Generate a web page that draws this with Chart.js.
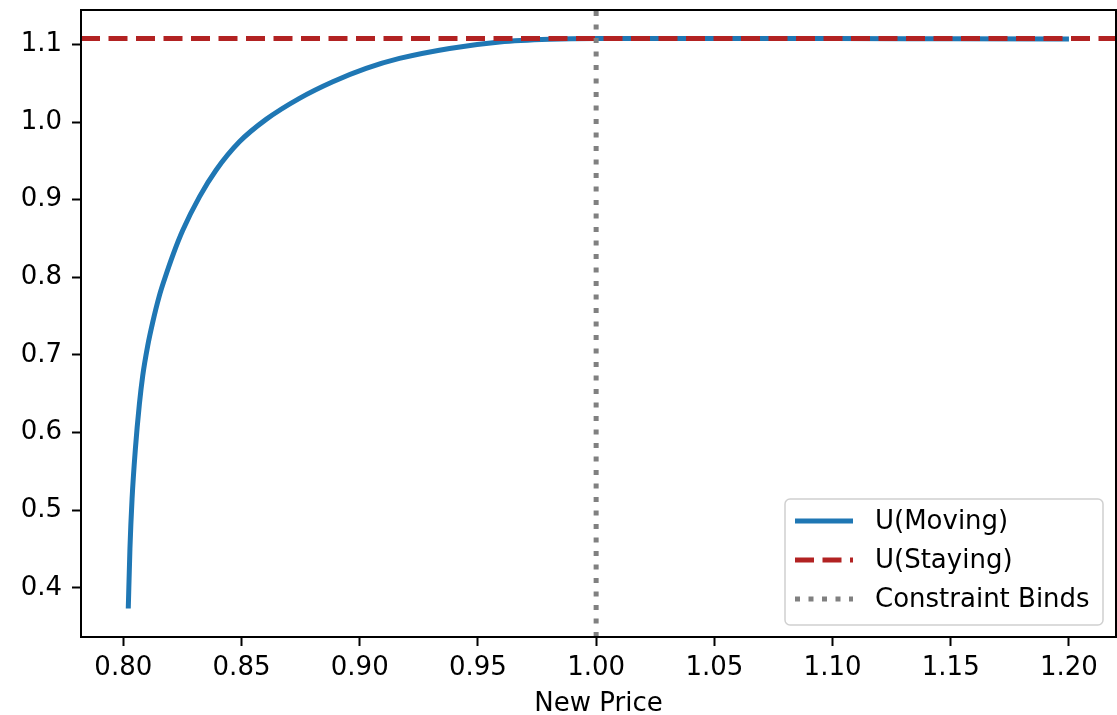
<!DOCTYPE html>
<html>
<head>
<meta charset="utf-8">
<title>U(Moving) vs U(Staying)</title>
<script src="https://cdn.jsdelivr.net/npm/chart.js@4/dist/chart.umd.min.js"></script>
<style>
  html, body { margin: 0; padding: 0; background: #fff; }
  #chart { display: block; }
</style>
</head>
<body>
<canvas id="chart" width="1117" height="715"></canvas>
<script>
// ------------------------------------------------------------
// data
// ------------------------------------------------------------
const priceX = [
  0.8021, 0.8028, 0.8037, 0.8051, 0.8068, 0.8082, 0.8103, 0.8124, 0.8152, 0.8174,
  0.8212, 0.8251, 0.8322, 0.8392, 0.8491, 0.8604, 0.8745, 0.8886, 0.9027, 0.9168,
  0.938, 0.9592, 0.9803, 1.0, 1.05, 1.1, 1.15, 1.2,
];
const uMoving = [
  0.3734, 0.4505, 0.5147, 0.5789, 0.6367, 0.6731, 0.7116, 0.7417, 0.7758, 0.7973,
  0.8307, 0.8604, 0.9037, 0.938, 0.9746, 1.0035, 1.0306, 1.052, 1.0692, 1.082,
  1.0949, 1.1033, 1.1068, 1.1077, 1.1077, 1.1076, 1.1074, 1.1072,
];
const uStaying = 1.1077;
const bindPrice = 1.0;

const xTicks = [0.8, 0.85, 0.9, 0.95, 1.0, 1.05, 1.1, 1.15, 1.2];
const yTicks = [0.4, 0.5, 0.6, 0.7, 0.8, 0.9, 1.0, 1.1];
const xRange = [0.7821, 1.2199];
const yRange = [0.3367, 1.1444];

const FONT = "'DejaVu Sans', sans-serif";
const FONT_SIZE = 26;

// axes frame (all four spines) drawn over the lines, like matplotlib
const framePlugin = {
  id: "frame",
  afterDatasetsDraw(chart) {
    const { ctx, chartArea: a } = chart;
    ctx.save();
    ctx.strokeStyle = "#000";
    ctx.lineWidth = 2;
    ctx.strokeRect(a.left, a.top, a.right - a.left, a.bottom - a.top);
    ctx.restore();
  },
};

// legend box in the lower right corner of the plot
const boxLegend = {
  id: "boxLegend",
  afterDraw(chart) {
    const { ctx } = chart;
    const x0 = 785, y0 = 499, w = 318, h = 126, r = 5;
    ctx.save();
    ctx.beginPath();
    ctx.roundRect(x0, y0, w, h, r);
    ctx.fillStyle = "rgba(255,255,255,0.8)";
    ctx.fill();
    ctx.strokeStyle = "#d0d0d0";
    ctx.lineWidth = 1.5;
    ctx.stroke();

    ctx.font = `${FONT_SIZE}px ${FONT}`;
    ctx.textBaseline = "middle";
    ctx.fillStyle = "#000";
    chart.data.datasets.forEach((ds, i) => {
      const y = 521 + i * 39;
      ctx.beginPath();
      ctx.strokeStyle = ds.borderColor;
      ctx.lineWidth = ds.borderWidth;
      ctx.setLineDash(ds.borderDash || []);
      ctx.lineCap = "butt";
      ctx.moveTo(795, y);
      ctx.lineTo(853, y);
      ctx.stroke();
      ctx.setLineDash([]);
      ctx.fillText(ds.label, 875, y + 1);
    });
    ctx.restore();
  },
};

new Chart(document.getElementById("chart"), {
  type: "line",
  data: {
    datasets: [
      {
        label: "U(Moving)",
        data: priceX.map((x, i) => ({ x, y: uMoving[i] })),
        borderColor: "#1f77b4",
        borderWidth: 5,
        pointRadius: 0,
        cubicInterpolationMode: "monotone",
        order: 3,
        clip: 0,
      },
      {
        label: "U(Staying)",
        data: xRange.map((x) => ({ x, y: uStaying })),
        borderColor: "#b22222",
        borderWidth: 5,
        borderDash: [19, 8.5],
        pointRadius: 0,
        order: 2,
        clip: 0,
      },
      {
        label: "Constraint Binds",
        data: yRange.map((y) => ({ x: bindPrice, y })),
        borderColor: "#808080",
        borderWidth: 5,
        borderDash: [5, 8.5],
        pointRadius: 0,
        order: 1,
        clip: 0,
      },
    ],
  },
  options: {
    responsive: false,
    animation: false,
    devicePixelRatio: 1,
    layout: { padding: { top: 10, right: 1, left: 0, bottom: 0 } },
    plugins: {
      legend: { display: false },
      tooltip: { enabled: false },
    },
    scales: {
      x: {
        type: "linear",
        min: xRange[0],
        max: xRange[1],
        afterBuildTicks: (scale) => { scale.ticks = xTicks.map((v) => ({ value: v })); },
        afterFit: (scale) => {
          scale.height = 78;
          scale.paddingLeft = 0;
          scale.paddingRight = 0;
        },
        grid: { drawOnChartArea: false, drawTicks: true, tickLength: 9, tickWidth: 2, tickColor: "#000" },
        border: { display: false },
        ticks: {
          color: "#000",
          font: { family: FONT, size: FONT_SIZE },
          padding: 7,
          maxRotation: 0,
          autoSkip: false,
          callback: (v) => v.toFixed(2),
        },
        title: {
          display: true,
          text: "New Price",
          color: "#000",
          font: { family: FONT, size: FONT_SIZE, lineHeight: 0.85 },
          padding: { top: 0, bottom: 0 },
        },
      },
      y: {
        type: "linear",
        min: yRange[0],
        max: yRange[1],
        afterBuildTicks: (scale) => { scale.ticks = yTicks.map((v) => ({ value: v })); },
        afterFit: (scale) => {
          scale.width = 81;
          scale.paddingTop = 0;
          scale.paddingBottom = 0;
        },
        grid: { drawOnChartArea: false, drawTicks: true, tickLength: 9, tickWidth: 2, tickColor: "#000" },
        border: { display: false },
        ticks: {
          color: "#000",
          font: { family: FONT, size: FONT_SIZE },
          padding: 10,
          autoSkip: false,
          callback: (v) => v.toFixed(1),
        },
      },
    },
  },
  plugins: [framePlugin, boxLegend],
});
</script>
</body>
</html>
